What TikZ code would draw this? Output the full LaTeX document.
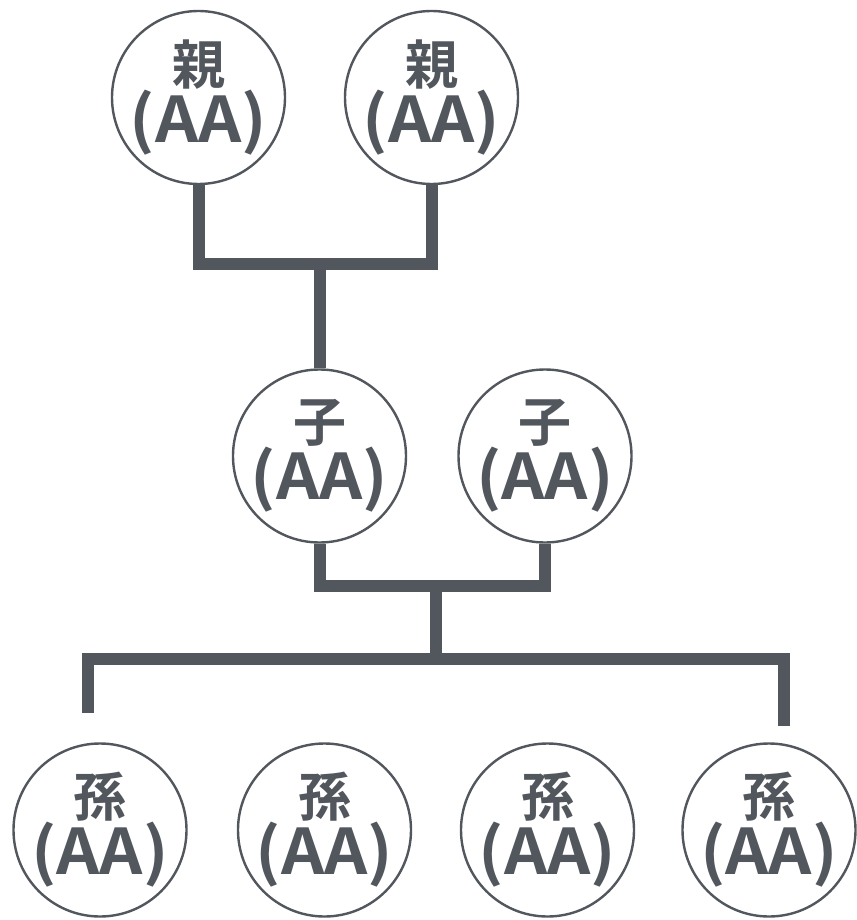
\documentclass[tikz,border=0pt]{standalone}
\usepackage{fontspec}
\newfontfamily\jp{Noto Sans CJK JP Bold}
\newfontfamily\jpwide{Noto Sans CJK JP Bold}[FakeStretch=1.07]
\definecolor{ink}{HTML}{52565D}
\tikzset{
  person/.style={circle,draw=ink,line width=2.4pt,minimum size=173pt,inner sep=0pt},
  who/.style={text=ink,align=center,inner sep=0pt,font=\jpwide\fontsize{63}{58}\selectfont},
  conn/.style={draw=ink,line width=12pt,line join=miter,line cap=butt}
}
\newcommand{\who}[1]{{\jp\fontsize{53}{58}\selectfont #1}\\(AA)}
\begin{document}
\begin{tikzpicture}[x=1pt,y=-1pt]
\useasboundingbox (0,0) rectangle (856,920);
\node[person,label={[who]center:\who{親}}] (p1) at (198.5,97.5) {};
\node[person,label={[who]center:\who{親}}] (p2) at (431.5,97.5) {};
\node[person,label={[who]center:\who{子}}] (c1) at (319.5,456) {};
\node[person,label={[who]center:\who{子}}] (c2) at (545,456) {};
\node[person,label={[who]center:\who{孫}}] (g1) at (100,830) {};
\node[person,label={[who]center:\who{孫}}] (g2) at (324.5,830) {};
\node[person,label={[who]center:\who{孫}}] (g3) at (547.5,830) {};
\node[person,label={[who]center:\who{孫}}] (g4) at (769,830) {};
\coordinate (j1) at (319.5,264);
\coordinate (j2) at (436,586);
\coordinate (j3) at (436,659);
\coordinate (e1) at (88,713);
\coordinate (e2) at (784,726);
\draw[conn] (p1.south) |- (j1) -| (p2.south);
\draw[conn] (j1) -- (c1.north);
\draw[conn] (c1.south) |- (j2) -| (c2.south);
\draw[conn] (j2) -- (j3);
\draw[conn] (e1) |- (j3) -| (e2);
\end{tikzpicture}
\end{document}
